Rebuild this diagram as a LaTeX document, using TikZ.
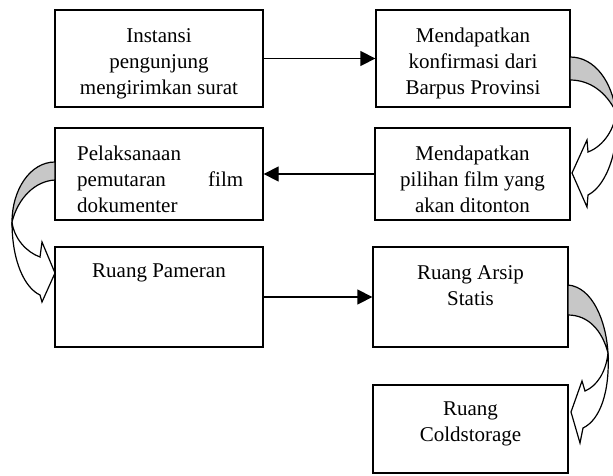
\documentclass[tikz,border=0pt]{standalone}
\usepackage{fontspec}
\setmainfont{Liberation Serif}
\usetikzlibrary{arrows.meta}
\begin{document}
\begin{tikzpicture}[x=1pt,y=-1pt,
  box/.style={draw, line width=1.3pt, inner sep=0pt},
  txt/.style={anchor=north, inner sep=0pt, align=center, font=\fontsize{21}{26}\selectfont},
  conn/.style={line width=1.3pt, -{Triangle[length=15pt,width=15pt]}},
  curv/.style={draw, line width=1.2pt, line join=miter},
  back/.style={curv, fill=black!22},
  front/.style={curv, fill=white}]
\useasboundingbox (0,0) rectangle (613,475);
% boxes
\node[box, minimum width=208pt, minimum height=97pt] (b1) at (159,58.5) {};
\node[box, minimum width=194pt, minimum height=97pt] (b2) at (473,58.5) {};
\node[box, minimum width=208pt, minimum height=92pt] (b3) at (159,174) {};
\node[box, minimum width=195pt, minimum height=92pt] (b4) at (472.5,174) {};
\node[box, minimum width=208pt, minimum height=100pt] (b5) at (159,297) {};
\node[box, minimum width=195pt, minimum height=100pt] (b6) at (470.5,297) {};
\node[box, minimum width=195pt, minimum height=88pt] (b7) at (470.5,429) {};
% texts
\node[txt] (t1) at (159,23.8) {\strut Instansi\\pengunjung\\mengirimkan surat};
\node[txt] (t2) at (473,23.8) {\strut Mendapatkan\\konfirmasi dari\\Barpus Provinsi};
\node[txt, anchor=north west, align=left] (t3) at (77,141.8) {\strut Pelaksanaan\\\hbox to 166pt{pemutaran\hfill film}\\dokumenter};
\node[txt] (t4) at (472.5,141.8) {\strut Mendapatkan\\pilihan film yang\\akan ditonton};
\node[txt] (t5) at (159,258.8) {\strut Ruang Pameran};
\node[txt] (t6) at (470.5,260.8) {\strut Ruang Arsip\\Statis};
\node[txt] (t7) at (470.5,396.8) {\strut Ruang\\Coldstorage};
% straight connectors
\draw[conn] (b1.east) -- (b2.west);
\draw[conn] (b4.west) -- (b3.east);
\draw[conn] (b5.east) -- (b6.west);
% curved arrow b2 -> b4
\path[back] (570,57) .. controls (595,57) and (612,82) .. (616,112) .. controls (606,92) and (590,80) .. (570,80) -- cycle;
\path[front] (616,112) .. controls (620,145) and (608,185) .. (588,195) -- (587,207) -- (572,173) -- (587,140) -- (588,152) .. controls (604,146) and (615,128) .. (616,112) -- cycle;
% curved arrow b3 -> b5
\path[back] (55,162) .. controls (30,162) and (12,190) .. (12,222) .. controls (18,198) and (35,181) .. (55,180) -- cycle;
\path[front] (12,222) .. controls (12,262) and (25,288) .. (40,295) -- (42,302) -- (55,273) -- (42,242) -- (40,257) .. controls (26,252) and (14,238) .. (12,222) -- cycle;
% curved arrow b6 -> b7
\path[back] (568,285) .. controls (592,287) and (606,320) .. (608,353) .. controls (602,330) and (588,315) .. (568,315) -- cycle;
\path[front] (608,353) .. controls (610,392) and (600,420) .. (583,428) -- (580,443) -- (571,412) -- (582,381) -- (585,391) .. controls (597,386) and (606,372) .. (608,353) -- cycle;
\end{tikzpicture}
\end{document}
